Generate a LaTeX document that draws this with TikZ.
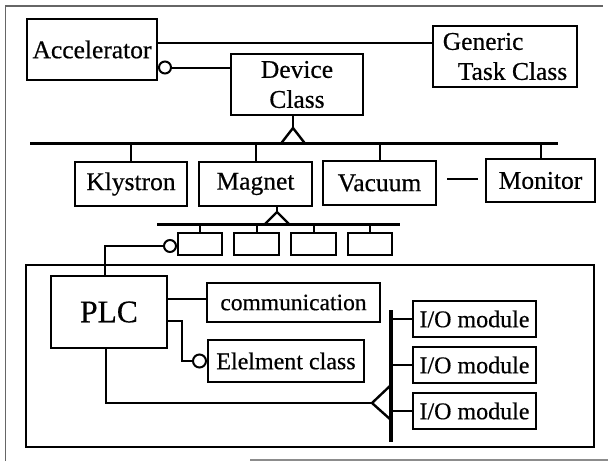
\documentclass[tikz,border=0pt]{standalone}
\usepackage{fontspec}
\setmainfont{Liberation Serif}[FakeBold=0.5]
\begin{document}
\begin{tikzpicture}[x=1pt,y=-1pt,
  box/.style={draw,line width=2.4pt,inner sep=0pt,align=center,font=\fontsize{25.5}{30}\selectfont},
  sbox/.style={draw,line width=2.4pt,inner sep=0pt,minimum height=22pt},
  link/.style={line width=2pt},
  leg/.style={line width=2.4pt,line join=miter},
  bus/.style={line width=3.2pt},
  port/.style={circle,draw,line width=2pt,fill=white,inner sep=0pt,minimum size=12pt},
]
\useasboundingbox (0,0) rectangle (608,461);

% page frame
\draw[black!60,line width=1.5pt] (5.5,461) -- (5.5,6) -- (603,6);
\draw[black!45,line width=1.5pt] (250,460) -- (608,460);

% top level classes
\node[box,minimum width=130pt,minimum height=61pt] (acc) at (92,49.5) {Accelerator};
\node[box,minimum width=144pt,minimum height=61pt,align=left] (gen) at (505,56.5) {Generic\\\hspace*{15pt}Task Class};
\node[box,minimum width=132pt,minimum height=61pt] (dev) at (297,84.5) {Device\\Class};

\draw[link] ([yshift=6.5pt]acc.east) -- ([yshift=6.5pt]acc.east -| gen.west);
\node[port] (p1) at (165,67.5) {};
\draw[link] (p1.east) -- (p1.east -| dev.west);

% device subclasses
\coordinate (t1) at (293,128);
\coordinate (b1l) at (30,143.5);
\coordinate (b1r) at (558,143.5);
\draw[link] ([xshift=-4pt]dev.south) -- (t1);
\draw[leg] ([xshift=-12pt]t1 |- b1l) -- (t1) -- ([xshift=12pt]t1 |- b1l);
\draw[bus] (b1l) -- (b1r);

\node[box,minimum width=112pt,minimum height=44pt] (kly) at (131,184) {Klystron};
\node[box,minimum width=113pt,minimum height=44pt] (mag) at (255.5,184) {Magnet};
\node[box,minimum width=113pt,minimum height=44pt] (vac) at (379.5,183) {Vacuum};
\node[box,minimum width=109pt,minimum height=43pt] (mon) at (540.5,180.5) {Monitor};
\foreach \n in {kly,mag,vac,mon}
  \draw[link] (\n.north) -- (\n.north |- b1l);
\draw[link] ([xshift=10pt,yshift=4pt]vac.east) -- ([xshift=-7pt,yshift=4pt]vac.east -| mon.west);

% magnet parts
\coordinate (t2) at (277,212);
\coordinate (b2l) at (157,224.5);
\coordinate (b2r) at (400,224.5);
\draw[link] (t2 |- mag.south) -- (t2);
\draw[leg] ([xshift=-12.5pt]t2 |- b2l) -- (t2) -- ([xshift=12.5pt]t2 |- b2l);
\draw[bus] (b2l) -- (b2r);
\node[sbox,minimum width=44pt] (s1) at (200,244) {};
\node[sbox,minimum width=45pt] (s2) at (256.5,244) {};
\node[sbox,minimum width=45pt] (s3) at (313.5,244) {};
\node[sbox,minimum width=44pt] (s4) at (370,244) {};
\foreach \n in {s1,s2,s3,s4}
  \draw[link] (\n.north) -- (\n.north |- b2l);

% PLC unit
\draw[line width=1.6pt] (26,265) rectangle (594,447);
\node[box,minimum width=116pt,minimum height=72pt,font=\fontsize{31.5}{36}\selectfont] (plc) at (109,312) {PLC};
\node[port] (p2) at (170,246) {};
\draw[link] (p2.west) -| ([xshift=-4pt]plc.north);

\node[box,minimum width=173pt,minimum height=39pt,font=\fontsize{23.5}{28}\selectfont] (comm) at (293.5,302.5) {communication};
\node[box,minimum width=156pt,minimum height=42pt,font=\fontsize{24}{28}\selectfont] (elem) at (286,361) {Elelment class};
\draw[link] ([yshift=13pt]plc.east) -- ([yshift=13pt]plc.east -| comm.west);
\node[port,minimum size=13pt] (p3) at (199.5,361) {};
\draw[link] ([yshift=-9pt]plc.east) -| ([xshift=-10pt]p3.west) -- (p3.west);

% I/O modules
\coordinate (t3) at (372,403);
\coordinate (b3t) at (391,310);
\coordinate (b3b) at (391,442);
\draw[link] ([xshift=-3pt]plc.south) |- (t3);
\draw[leg] ([yshift=18pt]t3 -| b3t) -- (t3) -- ([yshift=-17pt]t3 -| b3t);
\draw[bus] (b3t) -- (b3b);
\node[box,minimum width=123pt,minimum height=36pt,font=\fontsize{24}{28}\selectfont] (io1) at (474.5,319) {I/O module};
\node[box,minimum width=123pt,minimum height=36pt,font=\fontsize{24}{28}\selectfont] (io2) at (474.5,365) {I/O module};
\node[box,minimum width=123pt,minimum height=36pt,font=\fontsize{24}{28}\selectfont] (io3) at (474.5,411) {I/O module};
\foreach \n in {io1,io2,io3}
  \draw[link] (\n.west) -- (\n.west -| b3t);
\end{tikzpicture}
\end{document}
